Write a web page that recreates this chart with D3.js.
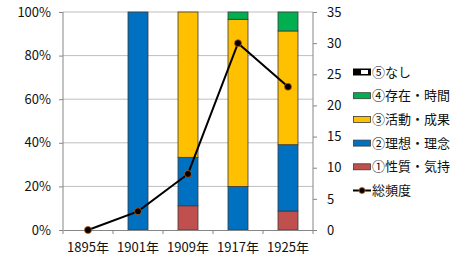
<!DOCTYPE html>
<html>
<head>
<meta charset="utf-8">
<script src="https://cdn.jsdelivr.net/npm/d3@7"></script>
<style>
  body { margin: 0; background: #fff; }
  text { font-family: "Noto Sans CJK JP", "DejaVu Sans", sans-serif; font-size: 13px; fill: #111; }
</style>
</head>
<body>
<div id="chart"></div>
<script>
// data (counts per category, stacked to 100%)
const years = ["1895年", "1901年", "1909年", "1917年", "1925年"];
const seriesNames = ["①性質・気持", "②理想・理念", "③活動・成果", "④存在・時間", "⑤なし"];
const seishitsu = [0, 0, 1, 0, 2];
const risou = [0, 3, 2, 6, 7];
const katsudou = [0, 0, 6, 23, 12];
const sonzai = [0, 0, 0, 1, 2];
const nashi = [0, 0, 0, 0, 0];
const total = [0, 3, 9, 30, 23];
const lineName = "総頻度";
const colors = ["#C0504D", "#0070C0", "#FFC000", "#00B050", "#000"];

const W = 472, H = 267;
const margin = {top: 12, right: 159, bottom: 37, left: 63};
const iw = W - margin.left - margin.right;
const ih = H - margin.top - margin.bottom;

const rows = years.map((y, i) => ({
  year: y,
  s0: seishitsu[i], s1: risou[i], s2: katsudou[i], s3: sonzai[i], s4: nashi[i]
}));
const keys = ["s0", "s1", "s2", "s3", "s4"];
const stacked = d3.stack().keys(keys).offset(d3.stackOffsetExpand)(rows);

const svg = d3.select("#chart").append("svg")
  .attr("width", W).attr("height", H);
const g = svg.append("g")
  .attr("transform", "translate(" + margin.left + "," + margin.top + ")");

const x = d3.scaleBand().domain(years).range([0, iw]);
const yL = d3.scaleLinear().domain([0, 1]).range([ih, 0]);
const yR = d3.scaleLinear().domain([0, 35]).range([ih, 0]);

// gridlines
g.append("g").selectAll("line").data(yL.ticks(5).filter(d => d > 0))
  .join("line")
  .attr("x1", 0).attr("x2", iw)
  .attr("y1", d => yL(d)).attr("y2", d => yL(d))
  .attr("stroke", "#BFBFBF").attr("stroke-width", 1);

// bars
const bw = x.bandwidth() * 0.4;
stacked.forEach((layer, li) => {
  g.append("g").selectAll("rect").data(layer.filter(d => d[1] - d[0] > 0))
    .join("rect")
    .attr("x", d => x(d.data.year) + (x.bandwidth() - bw) / 2)
    .attr("y", d => yL(d[1]))
    .attr("width", bw)
    .attr("height", d => yL(d[0]) - yL(d[1]))
    .attr("fill", colors[li])
    .attr("stroke", "#3a3a3a").attr("stroke-width", 0.8);
});

// axes
const axisColor = "#868686";
const left = g.append("g")
  .call(d3.axisLeft(yL).ticks(5).tickFormat(d3.format(".0%")).tickSize(4).tickPadding(8));
const right = g.append("g").attr("transform", "translate(" + iw + ",0)")
  .call(d3.axisRight(yR).ticks(7).tickSize(4).tickPadding(10));
const bottom = g.append("g").attr("transform", "translate(0," + ih + ")")
  .call(d3.axisBottom(x).tickSize(0).tickPadding(13));
[left, right, bottom].forEach(a => {
  a.select(".domain").attr("stroke", axisColor);
  a.selectAll(".tick line").attr("stroke", axisColor);
  a.selectAll("text").attr("font-size", 13).attr("fill", "#111")
    .style("font-family", '"Noto Sans CJK JP", sans-serif');
});
left.select(".domain").attr("d", "M0,0V" + ih);
right.select(".domain").attr("d", "M0,0V" + ih);
// category boundary ticks on x axis
g.append("g").selectAll("line").data(d3.range(years.length + 1))
  .join("line")
  .attr("x1", i => i * x.step()).attr("x2", i => i * x.step())
  .attr("y1", ih).attr("y2", ih + 4)
  .attr("stroke", axisColor);

// line on right axis
const pts = years.map((y, i) => [x(y) + x.bandwidth() / 2, yR(total[i])]);
g.append("path")
  .attr("d", d3.line()(pts))
  .attr("fill", "none").attr("stroke", "#000").attr("stroke-width", 2);
g.append("g").selectAll("circle").data(pts)
  .join("circle")
  .attr("cx", d => d[0]).attr("cy", d => d[1]).attr("r", 3.5)
  .attr("fill", "#000").attr("stroke", "#C55A11").attr("stroke-width", 0.8);

// legend
const lg = svg.append("g").attr("transform", "translate(353,0)");
const legendItems = seriesNames.map((n, i) => ({name: n, color: colors[i], idx: i})).reverse();
legendItems.forEach((it, k) => {
  const cy = 72 + k * 23.7;
  const row = lg.append("g").attr("transform", "translate(0," + cy + ")");
  if (it.idx === 4) {
    row.append("rect").attr("x", 0).attr("y", -3.5).attr("width", 18).attr("height", 7).attr("fill", "#000");
    row.append("rect").attr("x", 8).attr("y", -2).attr("width", 7).attr("height", 4).attr("fill", "#fff");
  } else {
    row.append("rect").attr("x", 0.5).attr("y", -3).attr("width", 17).attr("height", 6)
      .attr("fill", it.color).attr("stroke", "#3a3a3a").attr("stroke-width", 0.8);
  }
  row.append("text").attr("x", 19).attr("y", 0).attr("dy", "0.35em")
    .attr("font-size", 13.5).text(it.name);
});
const lr = lg.append("g").attr("transform", "translate(0," + (72 + 5 * 23.7) + ")");
lr.append("line").attr("x1", 0).attr("x2", 18).attr("stroke", "#000").attr("stroke-width", 2);
lr.append("circle").attr("cx", 9).attr("r", 3).attr("fill", "#000").attr("stroke", "#C55A11").attr("stroke-width", 0.8);
lr.append("text").attr("x", 19).attr("y", 0).attr("dy", "0.35em")
  .attr("font-size", 13.5).text(lineName);
</script>
</body>
</html>
